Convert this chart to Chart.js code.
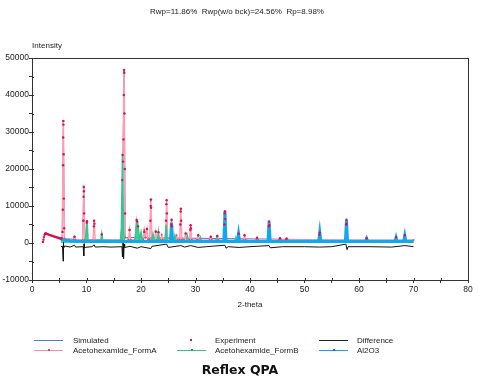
<!DOCTYPE html>
<html>
<head>
<meta charset="utf-8">
<script src="https://cdn.jsdelivr.net/npm/chart.js@4/dist/chart.umd.min.js"></script>
<style>
  body { margin: 0; background: #fff; font-family: "Liberation Sans", Arial, sans-serif; color: #222; }
  #wrap { position: relative; width: 479px; height: 383px; }
  canvas { position: absolute; left: 0; top: 0; }
  .t { position: absolute; font-size: 8px; white-space: nowrap; transform: translate(-50%, -50%); }
  .lg { position: absolute; font-size: 8px; white-space: nowrap; transform: translateY(-50%); }
  .ln { position: absolute; width: 29px; height: 0; }
  .mk { position: absolute; width: 2px; height: 2px; }
</style>
</head>
<body>
<div id="wrap">
  <canvas id="xrd-chart" width="479" height="383"></canvas>
  <div class="t" style="left:237px;top:11px">Rwp=11.86%&nbsp; Rwp(w/o bck)=24.56%&nbsp; Rp=8.98%</div>
  <div class="t" style="left:47px;top:45px">Intensity</div>
  <div class="t" style="left:250px;top:304px">2-theta</div>

  <div class="ln" style="left:34px;top:340px;border-top:1px solid #4a7bd0"></div>
  <div class="lg" style="left:73px;top:340px">Simulated</div>
  <div class="mk" style="left:190px;top:339px;background:#d8104c"></div>
  <div class="lg" style="left:215px;top:340px">Experiment</div>
  <div class="ln" style="left:319px;top:340px;border-top:1px solid #222"></div>
  <div class="lg" style="left:357px;top:340px">Difference</div>

  <div class="ln" style="left:34px;top:350px;border-top:1px solid #ff8aa2"></div>
  <div class="mk" style="left:48px;top:349px;background:#e8406a"></div>
  <div class="lg" style="left:73px;top:350px">Acetohexamide_FormA</div>
  <div class="ln" style="left:177px;top:350px;border-top:1px solid #30c890"></div>
  <div class="mk" style="left:191px;top:349px;background:#1a9a68"></div>
  <div class="lg" style="left:215px;top:350px">Acetohexamide_FormB</div>
  <div class="ln" style="left:319px;top:350px;border-top:1px solid #10a8f0"></div>
  <div class="mk" style="left:333px;top:349px;background:#0a78c0"></div>
  <div class="lg" style="left:357px;top:350px">Al2O3</div>

  <div class="t" style="left:240px;top:369px;font-size:12.5px;font-weight:bold;font-family:'DejaVu Sans',sans-serif;color:#111">Reflex QPA</div>
</div>
<script>
// experiment (dots)
const expTheta = [2.0, 2.1, 2.2, 2.3, 2.4, 2.5, 2.6, 2.8, 3.0, 3.2, 3.4, 3.6, 3.8, 4.0, 4.2, 4.4, 4.6, 4.8, 5.0, 5.2, 5.4,
    5.6, 5.65, 5.7, 5.72, 5.75, 5.77, 5.8, 5.85, 5.9, 7.8,
    9.42, 9.46, 9.5, 9.53, 9.57, 10.05, 10.1, 11.36, 11.4, 11.45, 12.8,
    16.55, 16.62, 16.7, 16.78, 16.84, 16.9, 16.93, 16.97, 17.02, 17.08, 17.9,
    19.2, 19.3, 19.45, 20.6, 21.1, 21.72, 21.78, 21.82, 21.86, 22.7, 23.2,
    24.6, 24.66, 24.7, 24.75, 25.55, 25.62, 25.68, 27.22, 27.28, 27.32, 27.38, 28.2,
    29.05, 29.1, 29.15, 30.5, 32.8, 34.0, 35.3, 35.36, 35.4, 35.45, 37.9, 39.0, 41.3,
    43.45, 43.5, 43.55, 45.5, 46.7, 52.75, 52.8, 57.65, 57.7, 57.75, 61.4, 66.8, 68.4];
const expIntensity = [300, 900, 1600, 2200, 2500, 2600, 2550, 2400, 2300, 2200, 2100, 2000, 1900, 1800, 1700, 1600, 1500, 1400, 1300, 1200, 1300,
    3000, 9000, 21000, 28500, 33000, 32000, 24000, 12000, 4000, 1700,
    6000, 12500, 15200, 14000, 8000, 5500, 5900, 4500, 6000, 5200, 2300,
    17000, 23800, 22000, 28000, 40000, 46800, 46000, 35000, 20000, 8000, 3500,
    6200, 5800, 4500, 3000, 3800, 6000, 10000, 11800, 9500, 3100, 2900,
    6000, 10500, 11600, 8000, 5000, 6300, 4500, 5000, 8500, 9300, 6000, 2600,
    3500, 4800, 4000, 2100, 1700, 1900, 5000, 8000, 8600, 6500, 2500, 2100, 1400,
    4500, 5800, 4800, 1300, 1200, 2200, 2800, 5000, 6300, 5200, 1300, 1600, 2100];

// Acetohexamide_FormA
const formATheta = [5.3, 5.55, 5.75, 5.95, 7.6, 7.8, 8.0, 9.3, 9.5, 9.7, 11.2, 11.4, 11.6,
    16.5, 16.6, 16.9, 17.1, 17.7, 17.9, 18.1, 18.9, 19.2, 19.4, 19.6, 20.4, 20.6, 20.8, 21.1, 21.3,
    21.6, 21.8, 22.0, 22.5, 22.7, 22.9, 23.6, 23.8, 24.0, 24.5, 24.7, 24.9, 25.4, 25.6, 25.8,
    26.3, 26.5, 26.7, 27.1, 27.3, 27.5, 27.9, 28.2, 28.4, 28.9, 29.1, 29.3, 30.3, 30.5, 30.7,
    32.6, 32.8, 33.0, 33.8, 34.0, 34.2, 38.8, 39.0, 39.2, 41.1, 41.3, 41.5, 45.3, 45.5, 45.7,
    46.5, 46.7, 46.9, 70.0];
const formAIntensity = [1100, 1300, 33000, 1200, 900, 1600, 800, 800, 15000, 900, 700, 6000, 700,
    900, 12000, 46500, 1500, 900, 3500, 900, 900, 6000, 4000, 900, 1000, 3500, 1500, 3800, 1000,
    1000, 11500, 1000, 900, 3000, 900, 900, 2200, 900, 1000, 11500, 1200, 1200, 6000, 1000,
    900, 2000, 900, 900, 9200, 900, 900, 2500, 900, 900, 4700, 900, 900, 2000, 900,
    800, 1600, 800, 800, 1800, 800, 800, 2000, 800, 800, 1300, 800, 800, 1200, 800,
    800, 1100, 800, 800];

// Acetohexamide_FormB
const formBTheta = [5.3, 9.8, 10.1, 10.3, 12.6, 12.8, 13.0, 16.2, 16.4, 16.6, 16.8, 17.0,
    18.9, 19.2, 19.4, 19.7, 20.0, 20.3, 21.9, 22.2, 22.5, 23.0, 23.2, 23.4, 24.4, 24.6, 24.8, 25.1,
    26.0, 26.2, 26.4, 28.3, 28.5, 28.7, 30.7, 30.9, 31.1, 33.7, 33.9, 34.1, 37.2, 37.4, 37.6, 70.0];
const formBIntensity = [600, 500, 6000, 500, 500, 2500, 500, 500, 4000, 24000, 3000, 500,
    500, 6000, 5500, 1000, 3000, 500, 500, 2500, 500, 500, 3000, 500, 500, 5000, 1000, 500,
    500, 2000, 500, 500, 2000, 500, 500, 1500, 500, 500, 1500, 500, 500, 1500, 500, 700];

// Al2O3
const al2o3Theta = [5.3, 6, 7, 8, 10, 25.4, 25.6, 25.8, 35.2, 35.4, 35.6, 37.7, 37.9, 38.1,
    43.3, 43.5, 43.7, 52.6, 52.8, 53.0, 57.5, 57.7, 57.9, 61.2, 61.4, 61.6, 66.6, 66.8, 67.0,
    68.2, 68.4, 68.6, 70];
const al2o3Intensity = [1000, 800, 600, 500, 400, 400, 5500, 400, 400, 8500, 400, 400, 2500, 400,
    400, 5700, 400, 400, 2900, 400, 400, 6200, 400, 400, 1200, 400, 400, 1500, 400,
    400, 2000, 400, 400];

// Simulated
const simTheta = [5.3, 5.55, 5.75, 5.95, 9.3, 9.5, 9.7, 16.5, 16.9, 17.1, 70];
const simIntensity = [1100, 1300, 33000, 1200, 800, 15000, 900, 900, 46500, 1500, 600];

// Difference
const diffTheta = [5.3, 5.6, 5.7, 5.75, 5.8, 6.0, 7.0, 7.8, 8.0, 9.4, 9.5, 9.55, 9.6, 11.0, 11.4, 11.6,
    13, 14.5, 16.5, 16.6, 16.7, 16.8, 16.9, 17.0, 18, 19.3, 20, 21.8, 22, 24.7, 25, 27.3, 28, 29.1,
    30.5, 32, 35.4, 35.6, 36, 38, 40, 43.5, 43.7, 46, 50, 52.8, 55, 57.6, 57.8, 58, 62, 66, 68.4, 70];
const diffIntensity = [-1000, -900, -4900, 200, -1500, -800, -1100, -600, -1100, -1000, -3500, -200, -1200, -1000, -500, -1100,
    -1000, -1100, -1000, -3800, 0, -4200, -300, -1200, -900, -1400, -1000, -1500, -900, -300, -1200, -700, -1100, -700,
    -1200, -1000, -600, -1400, -1000, -1200, -1000, -700, -1300, -1000, -1000, -1100, -1000, -300, -1800, -1000, -1000, -1100, -700, -1000];

const pts = (xs, ys) => xs.map((x, i) => ({ x: x, y: ys[i] }));

// frame round the plot plus short inner tick marks, as in the original
const boxPlugin = {
    id: 'box',
    afterDraw(chart) {
        const a = chart.chartArea, ctx = chart.ctx;
        ctx.save();
        ctx.strokeStyle = '#333';
        ctx.lineWidth = 1;
        ctx.strokeRect(a.left + 0.5, a.top + 0.5, a.right - a.left, a.bottom - a.top);
        ctx.beginPath();
        chart.scales.x.ticks.forEach(t => {
            const px = Math.round(chart.scales.x.getPixelForValue(t.value)) + 0.5;
            ctx.moveTo(px, a.bottom); ctx.lineTo(px, a.bottom - 2);
        });
        chart.scales.y.ticks.forEach(t => {
            const py = Math.round(chart.scales.y.getPixelForValue(t.value)) + 0.5;
            ctx.moveTo(a.left, py); ctx.lineTo(a.left + 2, py);
        });
        ctx.stroke();
        ctx.restore();
    }
};

const tickFont = { family: "Liberation Sans", size: 8.5 };

new Chart(document.getElementById("xrd-chart"), {
    type: "line",
    data: {
        datasets: [
            { label: "Experiment", data: pts(expTheta, expIntensity), showLine: false, pointRadius: 1.2, pointBackgroundColor: '#d8104c', pointBorderWidth: 0, order: 0 },
            { label: "Difference", data: pts(diffTheta, diffIntensity), borderColor: '#111', borderWidth: 1, pointRadius: 0, order: 1 },
            { label: "Al2O3", data: pts(al2o3Theta, al2o3Intensity), borderColor: '#10a8f0', borderWidth: 3, pointRadius: 0, order: 2 },
            { label: "Acetohexamide_FormB", data: pts(formBTheta, formBIntensity), borderColor: '#30c890', backgroundColor: 'rgba(48,200,144,0.85)', fill: 'origin', borderWidth: 1.5, pointRadius: 0, order: 3 },
            { label: "Acetohexamide_FormA", data: pts(formATheta, formAIntensity), borderColor: '#ff9cb2', borderWidth: 1.5, pointRadius: 1, pointBackgroundColor: '#e8406a', pointBorderWidth: 0, order: 4 },
            { label: "Simulated", data: pts(simTheta, simIntensity), borderColor: '#4a7bd0', borderWidth: 1, pointRadius: 0, order: 5 }
        ]
    },
    options: {
        responsive: false,
        animation: false,
        layout: { padding: { top: 58, right: 11, bottom: 83, left: 0 } },
        plugins: { legend: { display: false }, tooltip: { enabled: false } },
        scales: {
            x: {
                type: 'linear', min: 0, max: 80,
                afterFit: s => { s.height = 20; },
                grid: { drawOnChartArea: false, tickLength: 3, color: '#333' },
                border: { color: '#333' },
                ticks: { stepSize: 5, autoSkip: false, maxRotation: 0, padding: 2, color: '#222', font: tickFont,
                    callback: v => v % 10 === 0 ? v : '' }
            },
            y: {
                min: -10000, max: 50000,
                afterFit: s => { s.width = 32; },
                grid: { drawOnChartArea: false, tickLength: 3, color: '#333' },
                border: { color: '#333' },
                ticks: { stepSize: 5000, autoSkip: false, padding: 0, color: '#222', font: tickFont,
                    callback: v => v % 10000 === 0 ? v : '' }
            }
        }
    },
    plugins: [boxPlugin]
});
</script>
</body>
</html>
